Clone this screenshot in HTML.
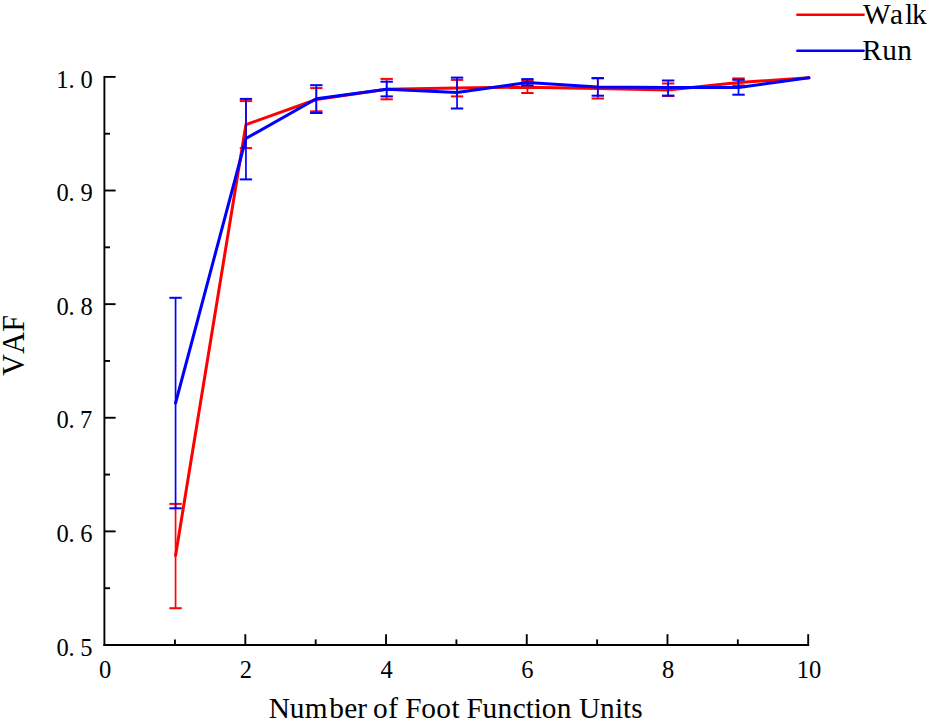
<!DOCTYPE html>
<html><head><meta charset="utf-8"><style>
html,body{margin:0;padding:0;background:#fff;}
body{width:931px;height:722px;overflow:hidden;}
svg{display:block;}
.t{font-family:"Liberation Serif",serif;font-size:24.5px;fill:#000;font-kerning:none;}
.L{font-family:"Liberation Serif",serif;fill:#000;font-kerning:none;}
</style></head><body>
<svg width="931" height="722" viewBox="0 0 931 722">
<rect width="931" height="722" fill="#fff"/>
<line x1="104.4" y1="75.95" x2="104.4" y2="645.95" stroke="#000" stroke-width="1.9"/>
<line x1="103.45" y1="645.0" x2="809.15" y2="645.0" stroke="#000" stroke-width="1.9"/>
<line x1="174.96" y1="645.0" x2="174.96" y2="639.40" stroke="#000" stroke-width="1.9"/>
<line x1="245.32" y1="645.0" x2="245.32" y2="634.20" stroke="#000" stroke-width="1.9"/>
<line x1="315.68" y1="645.0" x2="315.68" y2="639.40" stroke="#000" stroke-width="1.9"/>
<line x1="386.04" y1="645.0" x2="386.04" y2="634.20" stroke="#000" stroke-width="1.9"/>
<line x1="456.40" y1="645.0" x2="456.40" y2="639.40" stroke="#000" stroke-width="1.9"/>
<line x1="526.76" y1="645.0" x2="526.76" y2="634.20" stroke="#000" stroke-width="1.9"/>
<line x1="597.12" y1="645.0" x2="597.12" y2="639.40" stroke="#000" stroke-width="1.9"/>
<line x1="667.48" y1="645.0" x2="667.48" y2="634.20" stroke="#000" stroke-width="1.9"/>
<line x1="737.84" y1="645.0" x2="737.84" y2="639.40" stroke="#000" stroke-width="1.9"/>
<line x1="808.20" y1="645.0" x2="808.20" y2="634.20" stroke="#000" stroke-width="1.9"/>
<line x1="104.4" y1="588.19" x2="110.00" y2="588.19" stroke="#000" stroke-width="1.9"/>
<line x1="104.4" y1="531.38" x2="115.60" y2="531.38" stroke="#000" stroke-width="1.9"/>
<line x1="104.4" y1="474.57" x2="110.00" y2="474.57" stroke="#000" stroke-width="1.9"/>
<line x1="104.4" y1="417.76" x2="115.60" y2="417.76" stroke="#000" stroke-width="1.9"/>
<line x1="104.4" y1="360.95" x2="110.00" y2="360.95" stroke="#000" stroke-width="1.9"/>
<line x1="104.4" y1="304.14" x2="115.60" y2="304.14" stroke="#000" stroke-width="1.9"/>
<line x1="104.4" y1="247.33" x2="110.00" y2="247.33" stroke="#000" stroke-width="1.9"/>
<line x1="104.4" y1="190.52" x2="115.60" y2="190.52" stroke="#000" stroke-width="1.9"/>
<line x1="104.4" y1="133.71" x2="110.00" y2="133.71" stroke="#000" stroke-width="1.9"/>
<line x1="104.4" y1="76.90" x2="115.60" y2="76.90" stroke="#000" stroke-width="1.9"/>
<text x="56.48" y="655.60" class="t">0</text>
<text x="68.44" y="655.60" class="t">.</text>
<text x="80.14" y="655.60" class="t">5</text>
<text x="56.48" y="541.98" class="t">0</text>
<text x="68.44" y="541.98" class="t">.</text>
<text x="80.21" y="541.98" class="t">6</text>
<text x="56.48" y="428.36" class="t">0</text>
<text x="68.44" y="428.36" class="t">.</text>
<text x="79.92" y="428.36" class="t">7</text>
<text x="56.48" y="314.74" class="t">0</text>
<text x="68.44" y="314.74" class="t">.</text>
<text x="80.38" y="314.74" class="t">8</text>
<text x="56.48" y="201.12" class="t">0</text>
<text x="68.44" y="201.12" class="t">.</text>
<text x="80.48" y="201.12" class="t">9</text>
<text x="56.13" y="87.50" class="t">1</text>
<text x="68.44" y="87.50" class="t">.</text>
<text x="80.38" y="87.50" class="t">0</text>
<text x="99.08" y="677.9" class="t">0</text>
<text x="239.81" y="677.9" class="t">2</text>
<text x="380.56" y="677.9" class="t">4</text>
<text x="521.30" y="677.9" class="t">6</text>
<text x="662.04" y="677.9" class="t">8</text>
<text x="796.65" y="677.9" class="t">10</text>
<polyline points="175.57,555.40 245.94,124.60 316.31,99.50 386.68,89.30 457.05,87.90 527.42,87.20 597.79,88.50 668.16,89.90 738.53,82.60 808.90,77.80" fill="none" stroke="#ff0000" stroke-width="3.0" stroke-linejoin="round" stroke-linecap="round"/>
<line x1="175.57" y1="503.90" x2="175.57" y2="608.20" stroke="#ff0000" stroke-width="1.7"/>
<line x1="169.37" y1="503.90" x2="181.77" y2="503.90" stroke="#ff0000" stroke-width="2.0"/>
<line x1="169.37" y1="608.20" x2="181.77" y2="608.20" stroke="#ff0000" stroke-width="2.0"/>
<line x1="245.94" y1="101.10" x2="245.94" y2="148.10" stroke="#ff0000" stroke-width="1.7"/>
<line x1="239.74" y1="101.10" x2="252.14" y2="101.10" stroke="#ff0000" stroke-width="2.0"/>
<line x1="239.74" y1="148.10" x2="252.14" y2="148.10" stroke="#ff0000" stroke-width="2.0"/>
<line x1="316.31" y1="88.10" x2="316.31" y2="111.30" stroke="#ff0000" stroke-width="1.7"/>
<line x1="310.11" y1="88.10" x2="322.51" y2="88.10" stroke="#ff0000" stroke-width="2.0"/>
<line x1="310.11" y1="111.30" x2="322.51" y2="111.30" stroke="#ff0000" stroke-width="2.0"/>
<line x1="386.68" y1="78.90" x2="386.68" y2="99.30" stroke="#ff0000" stroke-width="1.7"/>
<line x1="380.48" y1="78.90" x2="392.88" y2="78.90" stroke="#ff0000" stroke-width="2.0"/>
<line x1="380.48" y1="99.30" x2="392.88" y2="99.30" stroke="#ff0000" stroke-width="2.0"/>
<line x1="457.05" y1="79.90" x2="457.05" y2="96.40" stroke="#ff0000" stroke-width="1.7"/>
<line x1="450.85" y1="79.90" x2="463.25" y2="79.90" stroke="#ff0000" stroke-width="2.0"/>
<line x1="450.85" y1="96.40" x2="463.25" y2="96.40" stroke="#ff0000" stroke-width="2.0"/>
<line x1="527.42" y1="80.90" x2="527.42" y2="93.00" stroke="#ff0000" stroke-width="1.7"/>
<line x1="521.22" y1="80.90" x2="533.62" y2="80.90" stroke="#ff0000" stroke-width="2.0"/>
<line x1="521.22" y1="93.00" x2="533.62" y2="93.00" stroke="#ff0000" stroke-width="2.0"/>
<line x1="597.79" y1="78.30" x2="597.79" y2="98.50" stroke="#ff0000" stroke-width="1.7"/>
<line x1="591.59" y1="78.30" x2="603.99" y2="78.30" stroke="#ff0000" stroke-width="2.0"/>
<line x1="591.59" y1="98.50" x2="603.99" y2="98.50" stroke="#ff0000" stroke-width="2.0"/>
<line x1="668.16" y1="83.50" x2="668.16" y2="96.00" stroke="#ff0000" stroke-width="1.7"/>
<line x1="661.96" y1="83.50" x2="674.36" y2="83.50" stroke="#ff0000" stroke-width="2.0"/>
<line x1="661.96" y1="96.00" x2="674.36" y2="96.00" stroke="#ff0000" stroke-width="2.0"/>
<line x1="738.53" y1="78.40" x2="738.53" y2="85.40" stroke="#ff0000" stroke-width="1.7"/>
<line x1="732.33" y1="78.40" x2="744.73" y2="78.40" stroke="#ff0000" stroke-width="2.0"/>
<line x1="732.33" y1="85.40" x2="744.73" y2="85.40" stroke="#ff0000" stroke-width="2.0"/>
<polyline points="175.57,403.00 245.94,138.50 316.31,98.80 386.68,89.20 457.05,92.40 527.42,82.60 597.79,86.90 668.16,87.60 738.53,87.60 808.90,77.80" fill="none" stroke="#0000ff" stroke-width="3.0" stroke-linejoin="round" stroke-linecap="round"/>
<line x1="175.57" y1="297.80" x2="175.57" y2="508.30" stroke="#0000ff" stroke-width="1.7"/>
<line x1="169.37" y1="297.80" x2="181.77" y2="297.80" stroke="#0000ff" stroke-width="2.0"/>
<line x1="169.37" y1="508.30" x2="181.77" y2="508.30" stroke="#0000ff" stroke-width="2.0"/>
<line x1="245.94" y1="98.90" x2="245.94" y2="179.40" stroke="#0000ff" stroke-width="1.7"/>
<line x1="239.74" y1="98.90" x2="252.14" y2="98.90" stroke="#0000ff" stroke-width="2.0"/>
<line x1="239.74" y1="179.40" x2="252.14" y2="179.40" stroke="#0000ff" stroke-width="2.0"/>
<line x1="316.31" y1="85.20" x2="316.31" y2="113.00" stroke="#0000ff" stroke-width="1.7"/>
<line x1="310.11" y1="85.20" x2="322.51" y2="85.20" stroke="#0000ff" stroke-width="2.0"/>
<line x1="310.11" y1="113.00" x2="322.51" y2="113.00" stroke="#0000ff" stroke-width="2.0"/>
<line x1="386.68" y1="81.70" x2="386.68" y2="96.40" stroke="#0000ff" stroke-width="1.7"/>
<line x1="380.48" y1="81.70" x2="392.88" y2="81.70" stroke="#0000ff" stroke-width="2.0"/>
<line x1="380.48" y1="96.40" x2="392.88" y2="96.40" stroke="#0000ff" stroke-width="2.0"/>
<line x1="457.05" y1="77.60" x2="457.05" y2="108.50" stroke="#0000ff" stroke-width="1.7"/>
<line x1="450.85" y1="77.60" x2="463.25" y2="77.60" stroke="#0000ff" stroke-width="2.0"/>
<line x1="450.85" y1="108.50" x2="463.25" y2="108.50" stroke="#0000ff" stroke-width="2.0"/>
<line x1="527.42" y1="79.10" x2="527.42" y2="85.30" stroke="#0000ff" stroke-width="1.7"/>
<line x1="521.22" y1="79.10" x2="533.62" y2="79.10" stroke="#0000ff" stroke-width="2.0"/>
<line x1="521.22" y1="85.30" x2="533.62" y2="85.30" stroke="#0000ff" stroke-width="2.0"/>
<line x1="597.79" y1="78.10" x2="597.79" y2="95.70" stroke="#0000ff" stroke-width="1.7"/>
<line x1="591.59" y1="78.10" x2="603.99" y2="78.10" stroke="#0000ff" stroke-width="2.0"/>
<line x1="591.59" y1="95.70" x2="603.99" y2="95.70" stroke="#0000ff" stroke-width="2.0"/>
<line x1="668.16" y1="80.50" x2="668.16" y2="95.60" stroke="#0000ff" stroke-width="1.7"/>
<line x1="661.96" y1="80.50" x2="674.36" y2="80.50" stroke="#0000ff" stroke-width="2.0"/>
<line x1="661.96" y1="95.60" x2="674.36" y2="95.60" stroke="#0000ff" stroke-width="2.0"/>
<line x1="738.53" y1="79.80" x2="738.53" y2="94.70" stroke="#0000ff" stroke-width="1.7"/>
<line x1="732.33" y1="79.80" x2="744.73" y2="79.80" stroke="#0000ff" stroke-width="2.0"/>
<line x1="732.33" y1="94.70" x2="744.73" y2="94.70" stroke="#0000ff" stroke-width="2.0"/>
<line x1="797.4" y1="14.7" x2="863.6" y2="14.7" stroke="#ff0000" stroke-width="2.6" stroke-linecap="round"/>
<line x1="797.4" y1="50.7" x2="863.6" y2="50.7" stroke="#0000ff" stroke-width="2.6" stroke-linecap="round"/>
<text x="863.00 889.90 905.10 912.00" y="0" font-size="29.33" class="L" transform="translate(0,23.60) scale(1,1.03)">Walk</text>
<text x="862.16 882.16 897.16" y="0" font-size="29.33" class="L" transform="translate(0,60.40) scale(1,1.03)">Run</text>
<text x="268.86 289.86 304.86 329.36 344.36 357.36 366.06 373.11 388.16 398.21 405.26 421.31 436.36 451.41 459.46 466.51 482.56 497.61 512.66 525.71 533.76 541.81 556.86 571.91 578.96 600.01 615.06 623.11 631.16" y="0" font-size="29.33" class="L" transform="translate(0,718.10) scale(1,1.03)">Number&#160;of&#160;Foot&#160;Function&#160;Units</text>
<text x="-375.74 -353.74 -331.74" y="0" font-size="30" class="L" transform="rotate(-90) translate(0,23.60) scale(1,1.03)">VAF</text>
</svg>
</body></html>
